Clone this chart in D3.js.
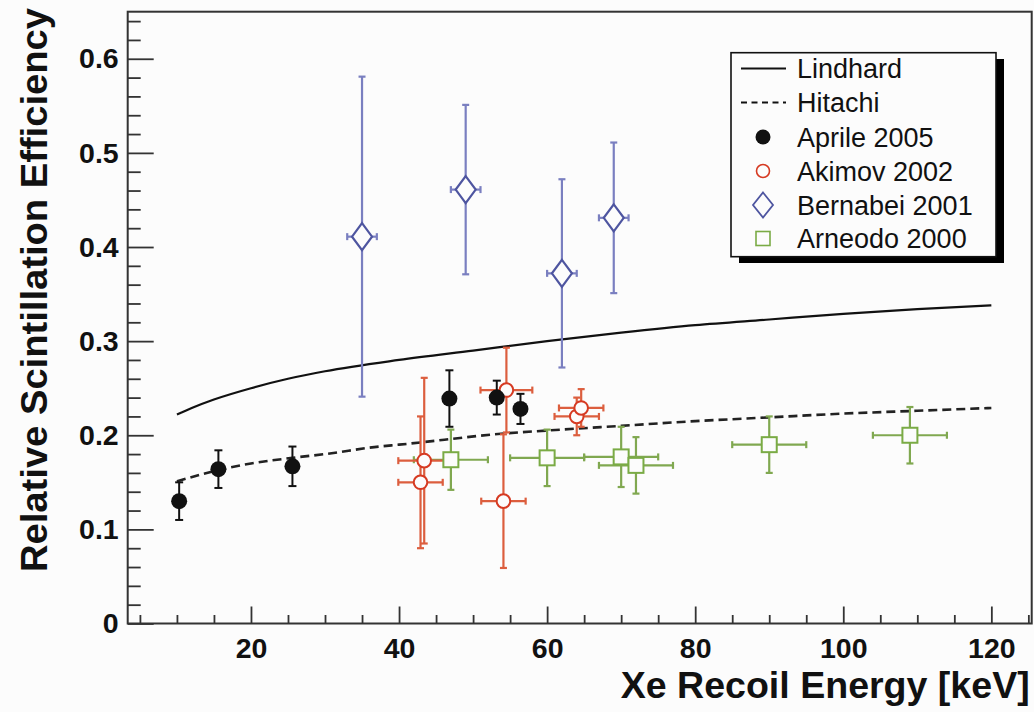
<!DOCTYPE html>
<html>
<head>
<meta charset="utf-8">
<script src="https://cdn.jsdelivr.net/npm/d3@7"></script>
<style>
  html, body { margin: 0; padding: 0; background: #fcfcfc; }
  svg { display: block; }
  text { font-family: "Liberation Sans", Arial, Helvetica, sans-serif; }
</style>
</head>
<body>
<svg id="chart" width="1034" height="712"></svg>
<script>
// ---- data ----
const lindhardE = [10, 12, 15, 20, 25, 30, 40, 50, 60, 70, 80, 90, 100, 110, 120];
const lindhardL = [0.222, 0.229, 0.238, 0.250, 0.260, 0.268, 0.280, 0.290, 0.300, 0.309, 0.317, 0.323, 0.329, 0.334, 0.338];

const hitachiE = [10, 15.6, 20, 25.6, 30, 37.3, 40, 54.4, 60, 70, 80, 90, 100, 110, 120];
const hitachiL = [0.151, 0.163, 0.170, 0.176, 0.180, 0.188, 0.190, 0.202, 0.205, 0.210, 0.215, 0.219, 0.223, 0.226, 0.229];

const aprileE = [10.3, 15.6, 25.6, 46.8, 53.2, 56.4];
const aprileL = [0.130, 0.164, 0.167, 0.239, 0.240, 0.228];
const aprileErrY = [0.020, 0.020, 0.021, 0.030, 0.018, 0.016];
const aprileErrX = [0, 0, 0, 0, 0, 0];

const akimovE = [42.9, 43.4, 54.1, 54.5, 64.0, 64.6];
const akimovL = [0.150, 0.173, 0.130, 0.248, 0.220, 0.229];
const akimovErrY = [0.070, 0.088, 0.071, 0.045, 0.020, 0.020];
const akimovErrX = [3.0, 3.5, 3.0, 3.5, 3.0, 3.0];

const bernabeiE = [35, 49, 62, 69];
const bernabeiL = [0.411, 0.461, 0.372, 0.431];
const bernabeiErrY = [0.17, 0.09, 0.10, 0.08];
const bernabeiErrX = [2, 2, 2, 2];

const arneodoE = [47, 60, 70, 72, 90, 109];
const arneodoL = [0.174, 0.176, 0.177, 0.168, 0.190, 0.200];
const arneodoErrY = [0.032, 0.030, 0.032, 0.030, 0.030, 0.030];
const arneodoErrX = [5, 5, 5, 5, 5, 5];

const xMajorTicks = [20, 40, 60, 80, 100, 120];
const yMajorTicks = [0, 0.1, 0.2, 0.3, 0.4, 0.5, 0.6];
const legendLabels = ["Lindhard", "Hitachi", "Aprile 2005", "Akimov 2002", "Bernabei 2001", "Arneodo 2000"];
const xTitle = "Xe Recoil Energy [keV]";
const yTitle = "Relative Scintillation Efficiency";

// ---- layout ----
const svg = d3.select("#chart");
const L = 127.7, R = 1031.7, T = 11.7, B = 623.5;
const x = d3.scaleLinear().domain([3.35, 125.45]).range([L, R]);
const y = d3.scaleLinear().domain([0, 0.65]).range([B, T]);
const axisColor = "#333";

svg.append("rect").attr("width", 1034).attr("height", 712).attr("fill", "#fcfcfc");

// minor ticks
const xMinor = d3.range(5, 126, 5).filter(v => v % 20 !== 0);
const yMinor = d3.range(0, 66, 2).map(v => v / 100).filter(v => Math.round(v * 100) % 10 !== 0);

const gx = svg.append("g").attr("transform", `translate(0,${B})`)
  .call(d3.axisBottom(x).tickValues(xMajorTicks).tickSize(-17).tickPadding(9).tickFormat(d3.format("d")));
const gxm = svg.append("g").attr("transform", `translate(0,${B})`)
  .call(d3.axisBottom(x).tickValues(xMinor).tickSize(-8.5).tickFormat(""));
const gy = svg.append("g").attr("transform", `translate(${L},0)`)
  .call(d3.axisLeft(y).tickValues(yMajorTicks).tickSize(-26).tickPadding(9).tickFormat(d => d === 0 ? "0" : d3.format(".1f")(d)));
const gym = svg.append("g").attr("transform", `translate(${L},0)`)
  .call(d3.axisLeft(y).tickValues(yMinor).tickSize(-13).tickFormat(""));

[gx, gxm, gy, gym].forEach(g => {
  g.select(".domain").remove();
  g.selectAll(".tick line").attr("stroke", axisColor).attr("stroke-width", 1.8);
  g.selectAll(".tick text").attr("fill", "#111").attr("font-weight", "bold").attr("font-size", 28.5);
});
gx.selectAll(".tick text").attr("dy", "0.88em");

// frame
svg.append("rect").attr("x", L).attr("y", T).attr("width", R - L).attr("height", B - T)
  .attr("fill", "none").attr("stroke", axisColor).attr("stroke-width", 2);

// titles
svg.append("text").attr("x", 620.7).attr("y", 698).attr("font-size", 36).attr("font-weight", "bold")
  .attr("fill", "#111").attr("textLength", 409).attr("lengthAdjust", "spacingAndGlyphs").text(xTitle);
svg.append("text").attr("transform", "translate(47,572) rotate(-90)").attr("font-size", 36).attr("font-weight", "bold")
  .attr("fill", "#111").attr("textLength", 564).attr("lengthAdjust", "spacingAndGlyphs").text(yTitle);

// curves
const line = d3.line().x(d => x(d[0])).y(d => y(d[1])).curve(d3.curveMonotoneX);
svg.append("path").datum(d3.zip(lindhardE, lindhardL)).attr("d", line)
  .attr("fill", "none").attr("stroke", "#111").attr("stroke-width", 2.2);
svg.append("path").datum(d3.zip(hitachiE, hitachiL)).attr("d", line)
  .attr("fill", "none").attr("stroke", "#222").attr("stroke-width", 2.6).attr("stroke-dasharray", "9,5");

// error bars
function errorBars(E, V, ex, ey, color, cap, width) {
  const g = svg.append("g").attr("stroke", color).attr("stroke-width", width).attr("fill", "none");
  E.forEach((e, i) => {
    const cx = x(e), cy = y(V[i]);
    if (ey[i] > 0) {
      const y1 = y(V[i] + ey[i]), y2 = y(V[i] - ey[i]);
      g.append("line").attr("x1", cx).attr("x2", cx).attr("y1", y1).attr("y2", y2);
      g.append("line").attr("x1", cx - cap).attr("x2", cx + cap).attr("y1", y1).attr("y2", y1);
      g.append("line").attr("x1", cx - cap).attr("x2", cx + cap).attr("y1", y2).attr("y2", y2);
    }
    if (ex[i] > 0) {
      const x1 = x(e - ex[i]), x2 = x(e + ex[i]);
      g.append("line").attr("x1", x1).attr("x2", x2).attr("y1", cy).attr("y2", cy);
      g.append("line").attr("x1", x1).attr("x2", x1).attr("y1", cy - cap).attr("y2", cy + cap);
      g.append("line").attr("x1", x2).attr("x2", x2).attr("y1", cy - cap).attr("y2", cy + cap);
    }
  });
}

const cBlack = "#111", cRed = "#d63a22", cRedBar = "#dc5e3e", cBlue = "#4e55a0", cBlueBar = "#7a7fc0", cGreen = "#7aab45", cGreenBar = "#80a850";

errorBars(bernabeiE, bernabeiL, bernabeiErrX, bernabeiErrY, cBlueBar, 3.5, 2.2);
errorBars(arneodoE, arneodoL, arneodoErrX, arneodoErrY, cGreenBar, 3.5, 2.2);
errorBars(akimovE, akimovL, akimovErrX, akimovErrY, cRedBar, 3.5, 2.2);
errorBars(aprileE, aprileL, aprileErrX, aprileErrY, cBlack, 4, 2);

// markers
function diamond(cx, cy, w, h) { return `M${cx},${cy - h}L${cx + w},${cy}L${cx},${cy + h}L${cx - w},${cy}Z`; }
svg.append("g").selectAll("path").data(d3.zip(bernabeiE, bernabeiL)).join("path")
  .attr("d", d => diamond(x(d[0]), y(d[1]), 10, 13.5)).attr("fill", "#fcfcfc").attr("stroke", cBlue).attr("stroke-width", 2.2);
svg.append("g").selectAll("rect").data(d3.zip(arneodoE, arneodoL)).join("rect")
  .attr("x", d => x(d[0]) - 7.5).attr("y", d => y(d[1]) - 7.5).attr("width", 15).attr("height", 15)
  .attr("fill", "#fcfcfc").attr("stroke", cGreen).attr("stroke-width", 2);
svg.append("g").selectAll("circle").data(d3.zip(akimovE, akimovL)).join("circle")
  .attr("cx", d => x(d[0])).attr("cy", d => y(d[1])).attr("r", 6.8)
  .attr("fill", "#fcfcfc").attr("stroke", cRed).attr("stroke-width", 2);
svg.append("g").selectAll("circle").data(d3.zip(aprileE, aprileL)).join("circle")
  .attr("cx", d => x(d[0])).attr("cy", d => y(d[1])).attr("r", 8).attr("fill", cBlack);

// legend
const lg = svg.append("g");
lg.append("rect").attr("x", 739).attr("y", 59).attr("width", 265).attr("height", 204).attr("fill", "#000");
lg.append("rect").attr("x", 731).attr("y", 52.7).attr("width", 265).attr("height", 204)
  .attr("fill", "#fcfcfc").attr("stroke", "#111").attr("stroke-width", 1.6);
const rowY = [68.5, 102.5, 137, 171, 205, 238.5];
const mx = 763;
lg.append("line").attr("x1", 741).attr("x2", 786).attr("y1", rowY[0]).attr("y2", rowY[0]).attr("stroke", "#111").attr("stroke-width", 1.8);
lg.append("line").attr("x1", 741).attr("x2", 786).attr("y1", rowY[1]).attr("y2", rowY[1]).attr("stroke", "#111").attr("stroke-width", 1.8).attr("stroke-dasharray", "6,4.5");
lg.append("circle").attr("cx", mx).attr("cy", rowY[2]).attr("r", 7.5).attr("fill", cBlack);
lg.append("circle").attr("cx", mx).attr("cy", rowY[3]).attr("r", 6.5).attr("fill", "none").attr("stroke", cRed).attr("stroke-width", 1.6);
lg.append("path").attr("d", diamond(mx, rowY[4], 10, 12.5)).attr("fill", "none").attr("stroke", cBlue).attr("stroke-width", 1.8);
lg.append("rect").attr("x", mx - 7).attr("y", rowY[5] - 7).attr("width", 14).attr("height", 14).attr("fill", "none").attr("stroke", cGreen).attr("stroke-width", 1.6);
legendLabels.forEach((t, i) => {
  lg.append("text").attr("x", 797).attr("y", rowY[i]).attr("dy", "0.36em").attr("font-size", 27).attr("fill", "#111").text(t);
});
</script>
</body>
</html>
